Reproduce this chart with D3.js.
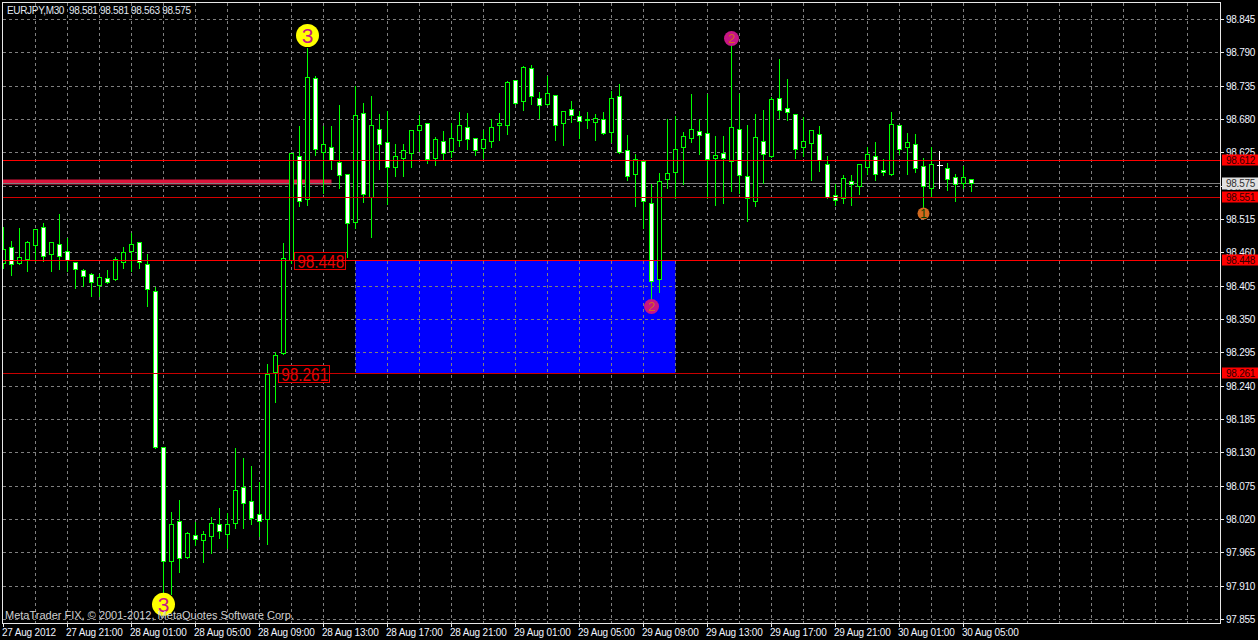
<!DOCTYPE html>
<html><head><meta charset="utf-8">
<style>
html,body{margin:0;padding:0;background:#000;overflow:hidden}
svg{display:block}
text{font-family:"Liberation Sans",Arial,sans-serif}
</style>
<script src="https://cdn.jsdelivr.net/npm/d3@7/dist/d3.min.js"></script>
</head><body><svg id="c" width="1258" height="640"></svg>
<script>
const title = "EURJPY,M30  98.581 98.581 98.563 98.575";
const copyright = "MetaTrader FIX, © 2001-2012, MetaQuotes Software Corp.";
const priceTicks = ["98.845","98.790","98.735","98.680","98.625","98.570","98.515","98.460","98.405","98.350","98.295","98.240","98.185","98.130","98.075","98.020","97.965","97.910","97.855"];
const timeLabels = ["27 Aug 2012","27 Aug 21:00","28 Aug 01:00","28 Aug 05:00","28 Aug 09:00","28 Aug 13:00","28 Aug 17:00","28 Aug 21:00","29 Aug 01:00","29 Aug 05:00","29 Aug 09:00","29 Aug 13:00","29 Aug 17:00","29 Aug 21:00","30 Aug 01:00","30 Aug 05:00"];
const opens = [98.443,98.469,98.443,98.449,98.472,98.502,98.457,98.474,98.462,98.444,98.431,98.424,98.406,98.418,98.416,98.444,98.462,98.477,98.441,98.396,98.138,97.950,98.016,97.958,97.994,97.986,97.992,98.011,97.996,98.014,98.072,98.050,98.029,98.020,98.263,98.294,98.448,98.619,98.548,98.748,98.626,98.634,98.609,98.589,98.510,98.690,98.551,98.664,98.642,98.601,98.616,98.624,98.662,98.674,98.616,98.644,98.627,98.645,98.667,98.649,98.632,98.644,98.670,98.670,98.744,98.710,98.764,98.715,98.705,98.720,98.674,98.697,98.685,98.680,98.675,98.680,98.659,98.718,98.629,98.589,98.611,98.542,98.416,98.581,98.593,98.634,98.649,98.660,98.657,98.616,98.624,98.611,98.664,98.586,98.545,98.644,98.619,98.715,98.698,98.688,98.634,98.640,98.655,98.606,98.555,98.550,98.578,98.570,98.601,98.619,98.596,98.589,98.670,98.634,98.639,98.603,98.566,98.604,98.599,98.584,98.575,98.581];
const highs = [98.504,98.481,98.502,98.481,98.499,98.510,98.477,98.525,98.486,98.444,98.434,98.428,98.426,98.433,98.454,98.471,98.494,98.477,98.459,98.405,98.138,98.034,98.053,98.001,98.016,98.002,98.025,98.039,98.032,98.139,98.123,98.109,98.083,98.278,98.298,98.477,98.624,98.670,98.799,98.753,98.670,98.670,98.705,98.589,98.736,98.708,98.720,98.690,98.695,98.640,98.640,98.662,98.688,98.674,98.652,98.662,98.675,98.693,98.692,98.649,98.664,98.682,98.692,98.744,98.746,98.769,98.771,98.726,98.753,98.720,98.693,98.711,98.695,98.693,98.690,98.693,98.728,98.739,98.655,98.624,98.611,98.575,98.593,98.682,98.687,98.660,98.723,98.682,98.723,98.654,98.654,98.814,98.723,98.672,98.690,98.697,98.718,98.781,98.748,98.688,98.685,98.662,98.670,98.621,98.575,98.589,98.589,98.606,98.636,98.644,98.616,98.693,98.670,98.659,98.657,98.617,98.636,98.629,98.609,98.591,98.604,98.581];
const lows = [98.436,98.424,98.443,98.431,98.448,98.448,98.431,98.434,98.431,98.403,98.406,98.390,98.390,98.411,98.416,98.436,98.431,98.436,98.373,98.139,97.898,97.898,97.935,97.958,97.979,97.951,97.966,97.991,97.973,98.006,98.006,98.014,97.994,97.981,98.215,98.294,98.444,98.538,98.540,98.622,98.560,98.599,98.568,98.454,98.502,98.545,98.487,98.599,98.542,98.588,98.588,98.603,98.629,98.609,98.606,98.614,98.619,98.637,98.632,98.622,98.617,98.636,98.647,98.657,98.706,98.697,98.706,98.683,98.705,98.647,98.639,98.677,98.650,98.667,98.647,98.657,98.644,98.626,98.581,98.538,98.502,98.382,98.396,98.568,98.551,98.575,98.644,98.624,98.551,98.540,98.543,98.563,98.560,98.514,98.538,98.576,98.619,98.683,98.680,98.617,98.621,98.581,98.596,98.551,98.540,98.543,98.540,98.558,98.591,98.581,98.589,98.589,98.624,98.591,98.594,98.535,98.555,98.568,98.565,98.547,98.568,98.563];
const closes = [98.466,98.441,98.452,98.477,98.499,98.454,98.477,98.454,98.448,98.433,98.421,98.411,98.419,98.411,98.449,98.461,98.474,98.444,98.400,98.139,97.950,98.012,97.955,97.997,97.987,97.996,98.014,98.001,98.011,98.068,98.047,98.022,98.017,98.260,98.291,98.451,98.624,98.545,98.749,98.631,98.639,98.612,98.588,98.509,98.687,98.556,98.670,98.639,98.601,98.619,98.629,98.662,98.670,98.614,98.647,98.624,98.649,98.670,98.647,98.629,98.647,98.667,98.674,98.741,98.706,98.766,98.718,98.703,98.723,98.670,98.693,98.687,98.677,98.678,98.682,98.657,98.715,98.626,98.586,98.614,98.545,98.413,98.578,98.591,98.631,98.652,98.664,98.654,98.614,98.621,98.616,98.667,98.588,98.550,98.650,98.622,98.713,98.695,98.692,98.631,98.644,98.662,98.612,98.551,98.547,98.583,98.573,98.606,98.622,98.589,98.593,98.672,98.631,98.642,98.599,98.570,98.606,98.604,98.581,98.573,98.584,98.575];
const levelPrices = [98.612,98.551,98.448,98.261];
const levelColors = ["#ff0000","#d40000","#ff0000","#c80000"];
const bidPrice = 98.575;
const textLabels = [{t:"98.448",i:36.4,p:98.448},{t:"98.261",i:34.4,p:98.261}];
const signals = [
 {t:"3",i:38,p:98.8186,fill:"#ffff00",ink:"#c71585"},
 {t:"3",i:20,p:97.880,fill:"#ffff00",ink:"#c71585"},
 {t:"2",i:91,p:98.8137,fill:"#c71585",ink:"#d2691e"},
 {t:"2",i:81,p:98.3714,fill:"#c71585",ink:"#d2691e"},
 {t:"1",i:115,p:98.525,fill:"#d2691e",ink:"#004000"}];
const signalRadius = {"3":11.5,"2":7.5,"1":6};
const signalFont = {"3":21,"2":13,"1":12};

const W=1258,H=640;
const svg=d3.select("#c");
const x=d3.scaleLinear().domain([0,121]).range([3.5,971.5]);
const y0=d3.scaleLinear().domain([97.855,98.845]).range([619.5,19.5]);
const y=p=>Math.floor(y0(p))+0.5;
const left=2.5,right=1220.5,top_=2.5,bottom=623.5;

svg.append("rect").attr("width",W).attr("height",H).attr("fill","#000");

// blue zone
svg.append("rect").attr("x",x(44)).attr("width",x(84)-x(44))
  .attr("y",y(levelPrices[2])).attr("height",y(levelPrices[3])-y(levelPrices[2])).attr("fill","#0000ff");

// grid
const grid=svg.append("g").attr("stroke","#7f7f7f").attr("stroke-dasharray","3,3").attr("shape-rendering","crispEdges");
grid.selectAll("line.h").data(priceTicks).join("line").attr("class","h").attr("x1",left).attr("x2",right)
  .attr("y1",d=>y(+d)).attr("y2",d=>y(+d));
const vIdx=d3.range(4,152,4);
grid.selectAll("line.v").data(vIdx).join("line").attr("class","v").attr("x1",d=>x(d)).attr("x2",d=>x(d))
  .attr("y1",top_).attr("y2",bottom);

// crimson bar
svg.append("rect").attr("x",x(0)-1).attr("width",x(41)-x(0)+1)
  .attr("y",y(98.581)).attr("height",y(98.573)-y(98.581)).attr("fill","#dc143c");

// bid line
svg.append("line").attr("x1",left).attr("x2",right).attr("y1",y(bidPrice)).attr("y2",y(bidPrice))
  .attr("stroke","#808080").attr("shape-rendering","crispEdges");

// candles
const data=opens.map((o,i)=>({i,o,h:highs[i],l:lows[i],c:closes[i]}));
const cg=svg.append("g").attr("shape-rendering","crispEdges");
const candle=cg.selectAll("g").data(data).join("g");
candle.append("line").attr("x1",d=>x(d.i)).attr("x2",d=>x(d.i))
  .attr("y1",d=>y(d.h)).attr("y2",d=>y(d.l)+1)
  .attr("stroke",d=>d.o===d.c?"#ffffff":"#00ff00");
candle.filter(d=>d.o!==d.c).append("rect").attr("x",d=>x(d.i)-2).attr("width",4)
  .attr("y",d=>y(Math.max(d.o,d.c))).attr("height",d=>Math.max(1,y(Math.min(d.o,d.c))-y(Math.max(d.o,d.c))))
  .attr("fill",d=>d.c<d.o?"#ffffff":"#000000").attr("stroke","#00ff00");
candle.filter(d=>d.o===d.c).append("line").attr("x1",d=>x(d.i)-3).attr("x2",d=>x(d.i)+3)
  .attr("y1",d=>y(d.o)).attr("y2",d=>y(d.o)).attr("stroke","#ffffff");
svg.append("rect").attr("x",0).attr("y",0).attr("width",2).attr("height",H).attr("fill","#000");

// text boxes
const lb=svg.append("g").selectAll("g").data(textLabels).join("g");
lb.append("rect").attr("x",d=>x(d.i)).attr("width",51).attr("y",d=>y(d.p)-8).attr("height",17)
  .attr("fill","#000").attr("stroke","#e00000").attr("shape-rendering","crispEdges");
lb.append("text").attr("x",d=>x(d.i)+2.5).attr("y",d=>y(d.p)+7)
  .attr("font-size",18).attr("textLength",47).attr("lengthAdjust","spacingAndGlyphs")
  .attr("fill","#e80000").text(d=>d.t);

// level lines
svg.append("g").attr("shape-rendering","crispEdges").selectAll("line").data(levelPrices).join("line")
  .attr("x1",left).attr("x2",right).attr("y1",d=>y(d)).attr("y2",d=>y(d)).attr("stroke",(d,i)=>levelColors[i]);

// signals
const sg=svg.append("g").selectAll("g").data(signals).join("g")
  .attr("transform",d=>`translate(${x(d.i)},${y0(d.p)})`);
sg.append("circle").attr("r",d=>signalRadius[d.t]).attr("fill",d=>d.fill);
sg.append("text").attr("text-anchor","middle").attr("y",d=>signalFont[d.t]*0.36)
  .attr("font-size",d=>signalFont[d.t]).attr("fill",d=>d.ink).text(d=>d.t);

// frame
svg.append("path").attr("d",`M${left},${bottom}V${top_}H${right}V${bottom}H${left}`)
  .attr("fill","none").attr("stroke","#e8e8e8").attr("shape-rendering","crispEdges");

// right axis
const ra=svg.append("g").attr("font-size",10).attr("fill","#f0f4ff").attr("letter-spacing","-0.25");
ra.selectAll("line").data(priceTicks).join("line").attr("x1",right).attr("x2",right+3)
  .attr("y1",d=>y(+d)).attr("y2",d=>y(+d)).attr("stroke","#e8e8e8").attr("shape-rendering","crispEdges");
ra.selectAll("text").data(priceTicks).join("text").attr("x",1226).attr("y",d=>y(+d)+3.5).text(d=>d);

// value tags on the axis
const tags=levelPrices.map((p,i)=>({p,bg:"#ff0000"})).concat([{p:bidPrice,bg:"#e0e0e0"}]);
const tg=svg.append("g").selectAll("g").data(tags).join("g");
tg.append("rect").attr("x",right+1.5).attr("width",W-right).attr("y",d=>y(d.p)-6).attr("height",d=>d.bg==="#ff0000"?11:12).attr("fill",d=>d.bg);
tg.append("text").attr("x",1226).attr("y",d=>y(d.p)+3.5).attr("font-size",10).attr("letter-spacing","-0.25")
  .attr("fill",d=>d.bg==="#ff0000"?"#300000":"#303030").text(d=>d.p.toFixed(3));

// time axis
const ta=svg.append("g");
ta.selectAll("line").data(timeLabels).join("line").attr("x1",(d,i)=>x(i*8)).attr("x2",(d,i)=>x(i*8))
  .attr("y1",bottom).attr("y2",bottom+3).attr("stroke","#e8e8e8").attr("shape-rendering","crispEdges");
ta.selectAll("text").data(timeLabels).join("text").attr("x",(d,i)=>x(i*8)-1.5).attr("y",636)
  .attr("font-size",10).attr("fill","#f0f4ff").attr("letter-spacing","-0.2").text(d=>d);

// captions
svg.append("text").attr("x",7).attr("y",14).attr("font-size",10).attr("letter-spacing","-0.33").attr("fill","#e0e8f0").style("white-space","pre").text(title);
svg.append("text").attr("x",5).attr("y",619).attr("font-size",11).attr("fill","#d0d0d0").text(copyright);
</script></body></html>
